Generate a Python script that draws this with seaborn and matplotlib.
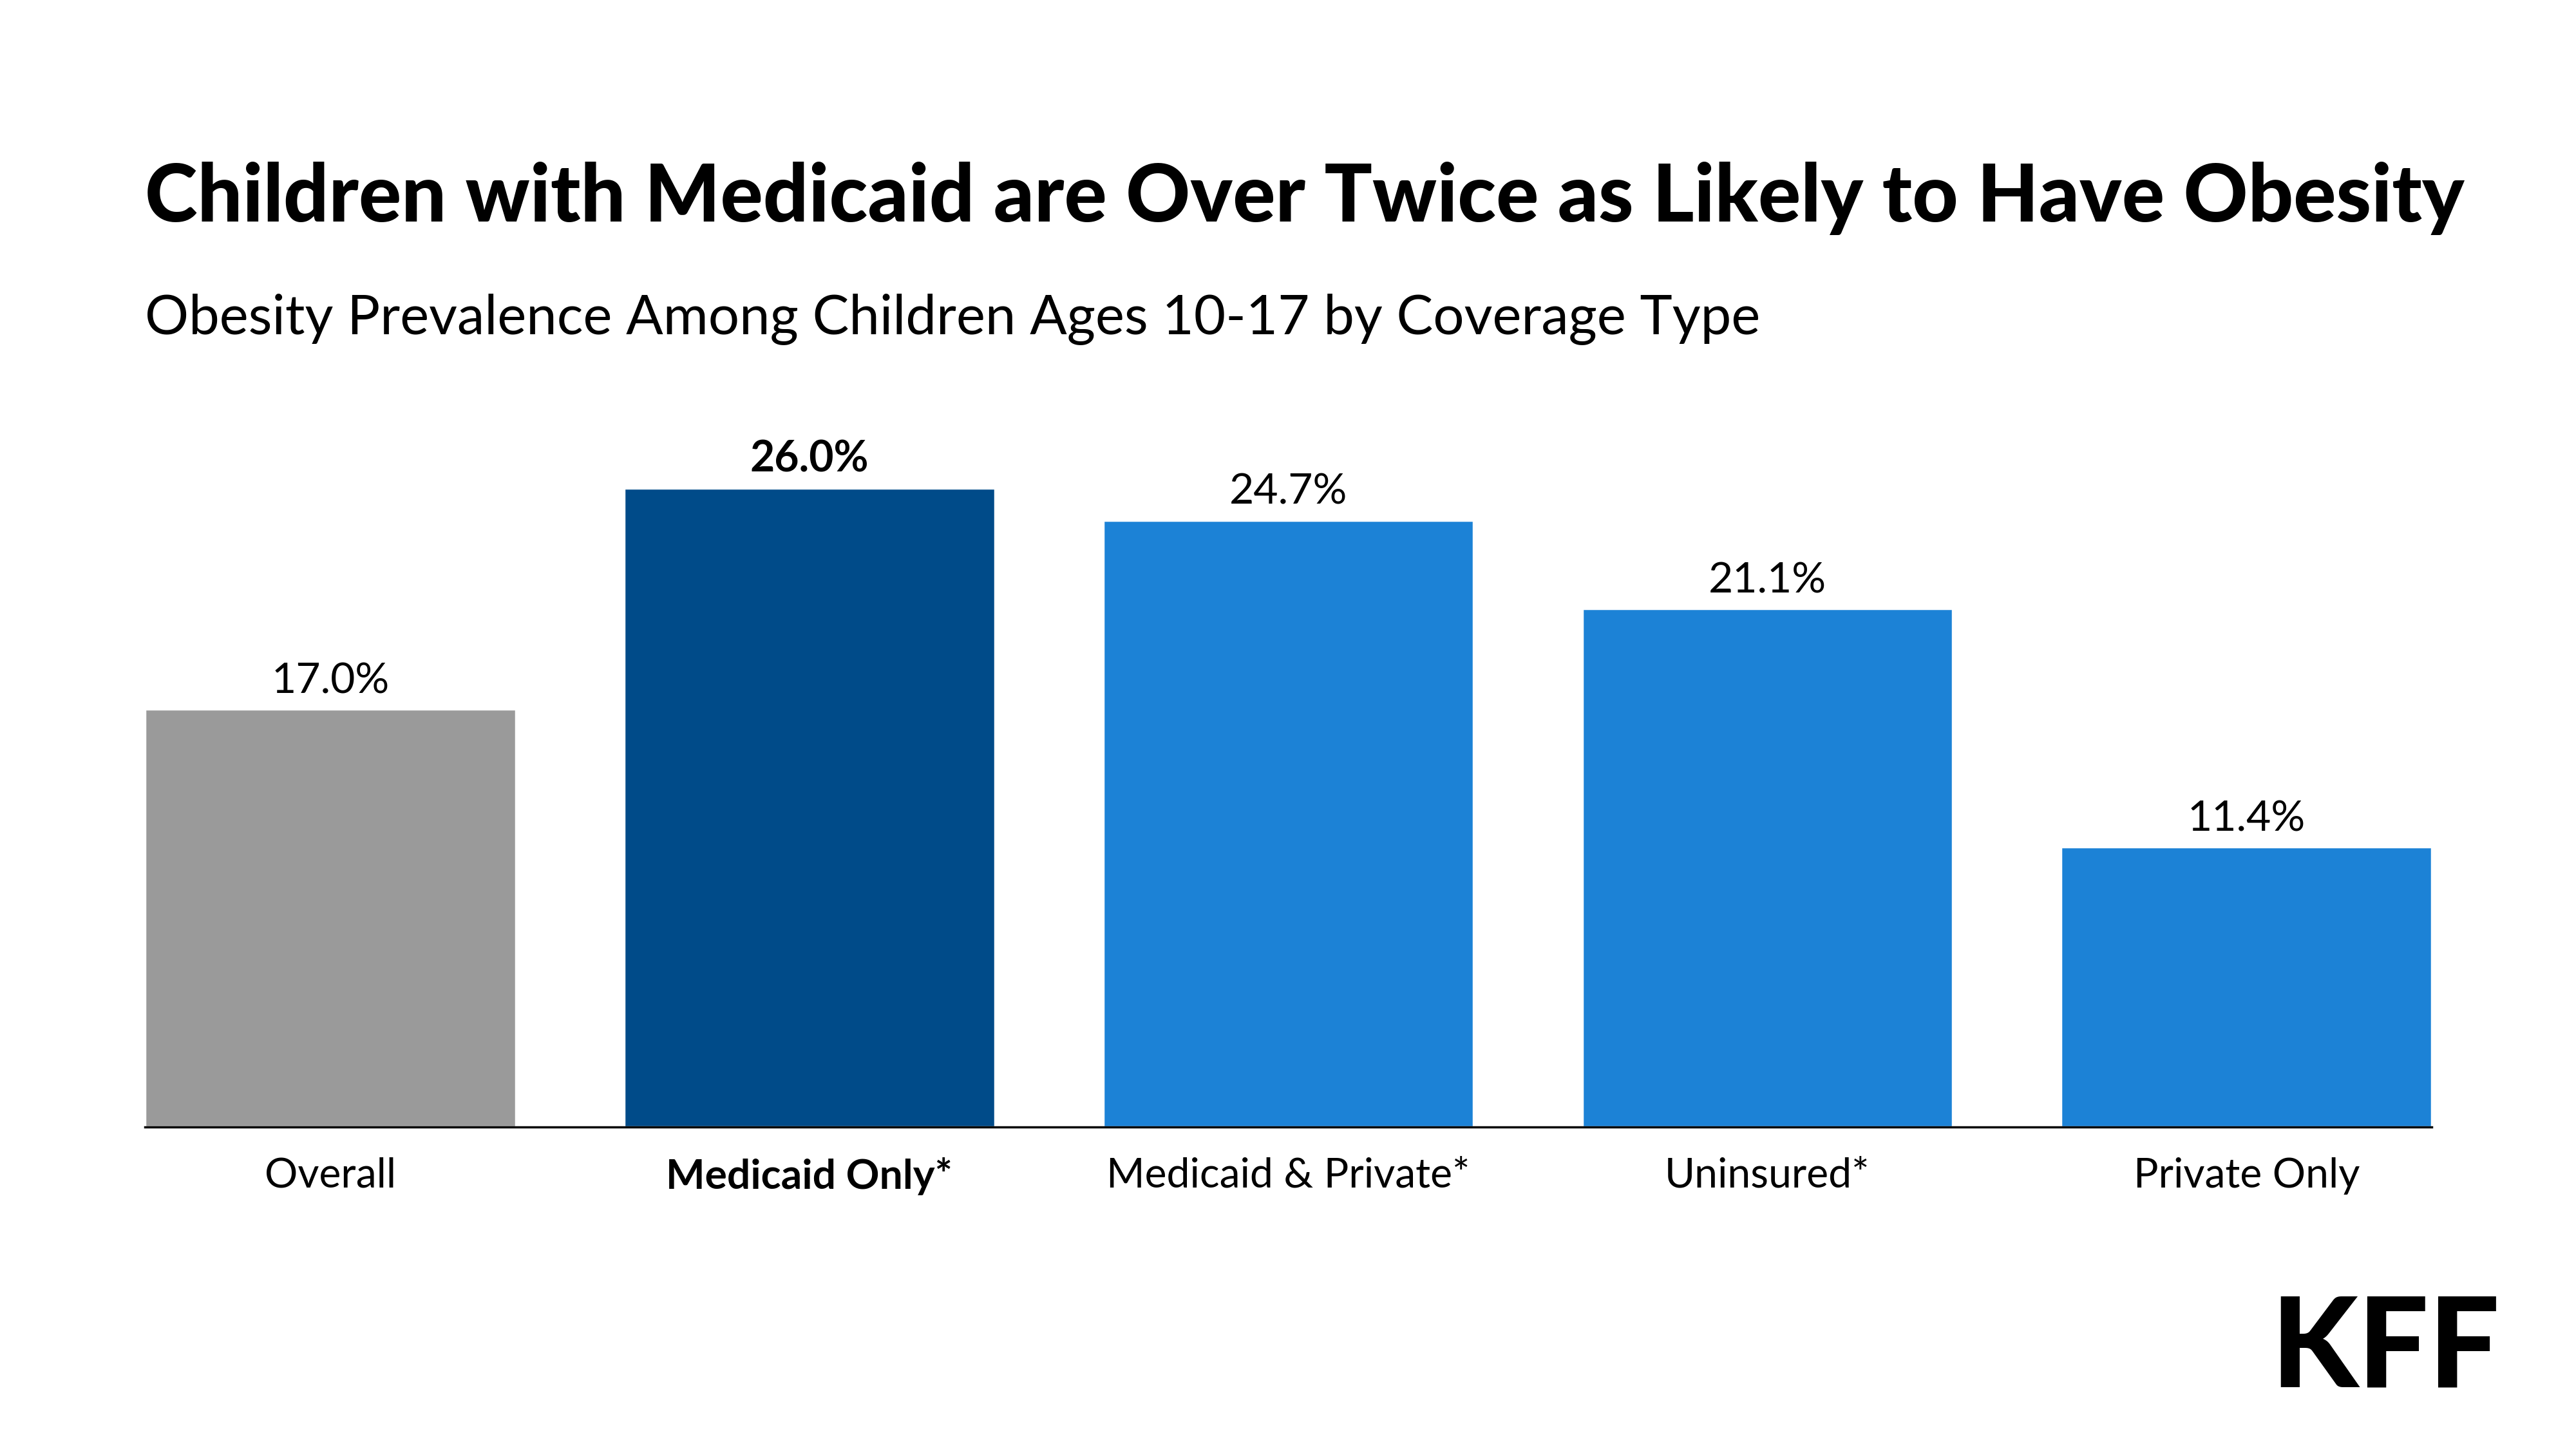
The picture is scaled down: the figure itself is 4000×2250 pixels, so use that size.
import matplotlib
matplotlib.use("Agg")
import matplotlib.pyplot as plt
import seaborn as sns
import pandas as pd

# ---- data ----
coverage = ["Overall", "Medicaid Only*", "Medicaid & Private*", "Uninsured*", "Private Only"]
obesity_pct = [17.0, 26.0, 24.7, 21.1, 11.4]

GRAY = "#9A9A9A"
DARK_BLUE = "#004B89"
LIGHT_BLUE = "#1C82D6"
bar_colors = [GRAY, DARK_BLUE, LIGHT_BLUE, LIGHT_BLUE, LIGHT_BLUE]
highlight = "Medicaid Only*"

FONT = ["Lato", "DejaVu Sans"]

sns.set_theme(style="white")
plt.rcParams["font.family"] = FONT

df = pd.DataFrame({"coverage": coverage, "pct": obesity_pct})

fig = plt.figure(figsize=(16, 9), dpi=250)
ax = fig.add_axes([0.05625, 0.2222, 0.8878, 0.4409])

sns.barplot(data=df, x="coverage", y="pct", hue="coverage",
            palette=dict(zip(coverage, bar_colors)), width=0.774,
            legend=False, saturation=1, ax=ax)

ax.set_xlim(-0.387, len(coverage) - 1 + 0.387)
ax.set_ylim(0, 26.0)

# value labels
for cont, cat, v in zip(ax.containers, coverage, obesity_pct):
    txts = ax.bar_label(cont, labels=[f"{v:.1f}%"], padding=4, fontsize=19,
                        color="black", clip_on=False)
    if cat == highlight:
        for t in txts:
            t.set_fontweight("bold")

# axes styling
for s in ["top", "right", "left"]:
    ax.spines[s].set_visible(False)
ax.spines["bottom"].set_color("black")
ax.spines["bottom"].set_linewidth(1.0)
ax.set_yticks([])
ax.set_xlabel("")
ax.set_ylabel("")
ax.tick_params(axis="x", length=0, pad=13.5, labelsize=18.5, labelcolor="black")
for lbl in ax.get_xticklabels():
    if lbl.get_text() == highlight:
        lbl.set_fontweight("bold")

# title & subtitle
fig.text(0.05625, 0.847, "Children with Medicaid are Over Twice as Likely to Have Obesity",
         fontsize=35.6, fontweight="black", ha="left", va="baseline", color="black")
fig.text(0.05625, 0.7698, "Obesity Prevalence Among Children Ages 10-17 by Coverage Type",
         fontsize=24.5, ha="left", va="baseline", color="black")

# logo
fig.text(0.9705, 1 - 2154 / 2250, "KFF", fontsize=56, fontweight="black",
         ha="right", va="baseline", color="black")

fig.savefig("out.png", dpi=250, facecolor="white")
